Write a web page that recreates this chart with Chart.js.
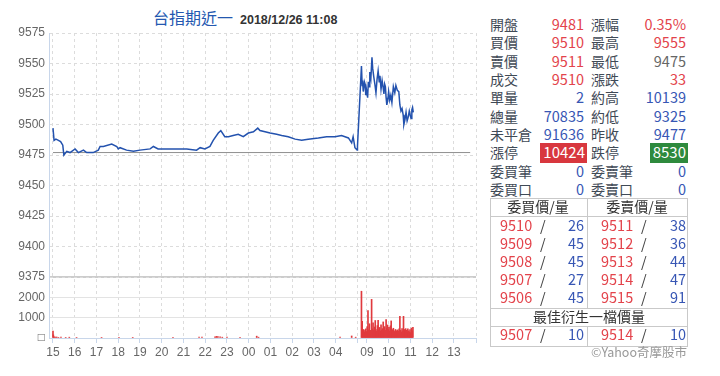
<!DOCTYPE html>
<html>
<head>
<meta charset="utf-8">
<script src="https://cdn.jsdelivr.net/npm/chart.js"></script>
<style>
    body { margin: 0; width: 720px; height: 376px; overflow: hidden; position: relative; background: #fff;
           font-family: "Noto Sans CJK TC", sans-serif; }
    #chartBox { position: absolute; left: 0; top: 0; width: 480px; height: 376px; }
    .t { position: absolute; white-space: nowrap; height: 20px; line-height: 20px; font-size: 14px; }
    .ln { position: absolute; background: #c9c9c9; }
    #title { position: absolute; left: 153px; top: 6px; white-space: nowrap; line-height: 22px; }
</style>
</head>
<body>
<div id="title"><span style="color:#2458b0;font-size:16px">台指期近一</span><span style="font-family:'Liberation Sans';font-weight:bold;font-size:12.5px;color:#333;margin-left:7px">2018/12/26 11:08</span></div>
<div id="chartBox"><canvas id="tx" width="480" height="376"></canvas></div>
<div id="panel"></div>
<script>
// 價格走勢 (夜盤 15:00-05:00, 日盤 08:45-13:45)
const priceTimes = ["15:00","15:03","15:08","15:15","15:21","15:27","15:30","15:38","15:47","16:01","16:10","16:24","16:33","16:51",
    "17:05","17:10","17:19","17:42","17:56","18:00","18:05","18:23","18:42","19:00","19:28","19:37","19:50","20:09","20:32","20:50",
    "21:09","21:36","21:46","21:59","22:13","22:22","22:36","22:43","22:54","23:04","23:17","23:31","23:45","23:59","00:13","00:25",
    "00:31","00:45","00:59","01:17","01:31","01:49","02:08","02:26","02:44","03:12","03:35","03:58","04:16","04:35","04:44","04:48",
    "04:53","04:59","05:00",
    "08:45","08:47","08:48","08:50","08:53","08:55","08:57","08:59","09:02","09:04","09:06","09:08","09:11","09:14","09:16","09:19",
    "09:22","09:25","09:28","09:31","09:34","09:36","09:39","09:42","09:45","09:47","09:49","09:51","09:53","09:55","09:58","10:00",
    "10:03","10:06","10:09","10:13","10:17","10:20","10:24","10:28","10:31","10:34","10:37","10:40","10:42","10:45","10:48","10:51",
    "10:54","10:57","11:00","11:02","11:04","11:06","11:08"];
const priceValues = [9497,9487,9488,9487,9486,9483,9475,9478,9477,9480,9477,9479,9477,9477,
    9479,9482,9482,9484,9482,9480,9481,9479,9478,9479,9480,9482,9480,9480,9480,9480,
    9480,9479,9481,9480,9482,9487,9493,9495,9490,9490,9491,9492,9490,9493,9494,9497,
    9495,9494,9493,9492,9491,9490,9488,9487,9488,9489,9490,9490,9491,9489,9485,9490,
    9481,9479,9482,
    9548,9532,9536,9527,9535,9533,9524,9528,9522,9535,9531,9543,9538,9555,9546,9539,
    9533,9526,9537,9544,9535,9540,9529,9536,9530,9525,9533,9531,9522,9516,9521,9527,
    9520,9524,9518,9531,9526,9532,9528,9527,9516,9511,9513,9508,9500,9504,9510,9503,
    9506,9511,9507,9505,9512,9514,9510];
const prevClose = 9477;
const sessionSpan = ["15:00", "13:45"];

// 成交量 - 夜盤零星
const nightVolTimes = ["15:00","15:01","15:03","15:06","15:10","15:15","15:22","15:35","15:45","16:05","17:14","18:02","18:40",
    "20:31","21:43","21:51","22:27","22:31","22:35","22:41","22:47","23:00","23:36","00:22","00:27","04:12","04:44","04:55"];
const nightVolValues = [340,150,60,40,50,30,40,30,40,20,30,30,30,
    30,40,40,60,80,70,60,40,40,30,90,40,40,100,40];
// 成交量 - 日盤 每2分鐘 自 08:45
const dayVolStart = "08:45";
const dayVolStep = 2;
const dayVolValues = [2300,820,350,420,300,380,450,320,560,1350,400,700,380,330,1900,450,740,380,540,860,
    420,330,610,870,400,520,350,650,380,460,790,420,560,380,900,480,640,420,520,350,
    600,840,430,380,480,350,300,420,360,280,400,330,450,1065,380,300,460,350,1065,420,
    300,460,380,270,450,350,300,420,260,490,350,520];

// 時間軸刻度
const xTickTimes = ["15:00","16:00","17:00","18:00","19:00","20:00","21:00","22:00","23:00","00:00","01:00","02:00","03:00",
    "04:00","05:00","09:00","10:00","11:00","12:00","13:00"];
const xTickLabels = ["15","16","17","18","19","20","21","22","23","00","01","02","03","04","","09","10","11","12","13"];

// 報價
const quoteLeft = [["開盤","9481","r"],["買價","9510","r"],["賣價","9511","r"],["成交","9510","r"],["單量","2","b"],
    ["總量","70835","b"],["未平倉","91636","b"],["漲停","10424","up"],["委買筆","0","b"],["委買口","0","b"]];
const quoteRight = [["漲幅","0.35%","r"],["最高","9555","r"],["最低","9475","g"],["漲跌","33","r"],["約高","10139","b"],
    ["約低","9325","b"],["昨收","9477","b"],["跌停","8530","dn"],["委賣筆","0","b"],["委賣口","0","b"]];
const bidPrices = ["9510","9509","9508","9507","9506"];
const bidQtys = ["26","45","45","27","45"];
const askPrices = ["9511","9512","9513","9514","9515"];
const askQtys = ["38","36","44","47","91"];
const bestBid = ["9507","10"];
const bestAsk = ["9514","10"];

// 時間 -> 軸上分鐘 (日盤接在夜盤後面)
function pos(t) {
    const [h, m] = t.split(":").map(Number);
    const mins = h * 60 + m;
    if (h >= 15) return mins - 900;
    if (h < 8) return mins + 540;
    return mins - 525 + 851;
}

function main() {
    const volData = nightVolTimes.map((t, i) => ({ x: pos(t), y: nightVolValues[i] }));
    dayVolValues.forEach((v, i) => volData.push({ x: pos(dayVolStart) + i * dayVolStep, y: v }));
    const xTicks = xTickTimes.map(pos);

    Chart.defaults.font.family = "Liberation Sans";
    Chart.defaults.font.size = 12;
    Chart.defaults.color = "#666";

    new Chart(document.getElementById("tx"), {
        type: "line",
        data: {
            datasets: [
                {
                    data: priceTimes.map((t, i) => ({ x: pos(t), y: priceValues[i] })),
                    borderColor: "#2352ae",
                    borderWidth: 1.5,
                    pointRadius: 0,
                    yAxisID: "y",
                },
                {
                    // 昨收線
                    data: sessionSpan.map(t => ({ x: pos(t), y: prevClose })),
                    borderColor: "#8f8f8f",
                    borderWidth: 1,
                    pointRadius: 0,
                    yAxisID: "y",
                },
                {
                    type: "bar",
                    data: volData,
                    backgroundColor: "#e03a3e",
                    barThickness: 1,
                    yAxisID: "yv",
                },
            ],
        },
        options: {
            responsive: false,
            animation: false,
            layout: { padding: { top: 33, right: 4, left: 0, bottom: 0 } },
            plugins: { legend: { display: false }, tooltip: { enabled: false } },
            scales: {
                x: {
                    type: "linear",
                    offset: false,  // bar 預設會加 offset
                    min: -11,
                    max: 1167,
                    afterBuildTicks: s => { s.ticks = xTicks.concat([1167]).map(v => ({ value: v })) },
                    afterFit: s => { s.height = 38; s.paddingLeft = 0; s.paddingRight = 0 },
                    ticks: {
                        autoSkip: false,
                        maxRotation: 0,
                        padding: 2,
                        callback: (v, i) => xTickLabels[i] || "",
                    },
                    grid: { offset: false, color: "#dcdcdc", tickColor: "#c8d6ea", tickLength: 5 },
                    border: { color: "#c8d6ea", dash: [3, 3] },
                },
                yv: {
                    type: "linear",
                    position: "left",
                    stack: "main",
                    stackWeight: 1,
                    min: 0,
                    max: 3000,
                    afterFit: s => { s.width = 49 },
                    ticks: {
                        stepSize: 1000,
                        padding: 4,
                        autoSkip: false,
                        callback: v => v === 0 ? "□" : v === 3000 ? "" : String(v),
                    },
                    grid: {
                        drawTicks: false,
                        color: c => c.tick && c.tick.value === 3000 ? "#cccccc" : "#e3e3e3",
                        lineWidth: c => c.tick && c.tick.value === 3000 ? 2 : 1,
                    },
                    border: { color: "#c8d6ea" },
                },
                y: {
                    type: "linear",
                    position: "left",
                    stack: "main",
                    stackWeight: 4,
                    min: 9375,
                    max: 9575,
                    afterFit: s => { s.width = 49 },
                    ticks: { stepSize: 25, padding: 4, autoSkip: false, callback: v => String(v) },
                    grid: { drawTicks: false, color: "#dcdcdc" },
                    border: { color: "#c8d6ea", dash: [3, 3] },
                },
            },
        },
    });

    buildPanel();
}

const colors = { r: "#e3434b", b: "#3756b4", g: "#666666", lab: "#3f4a56" };

function addText(txt, opt) {
    const d = document.createElement("div");
    d.className = "t";
    d.textContent = txt;
    d.style.top = (opt.cy - 11) + "px";
    if (opt.left !== undefined) d.style.left = opt.left + "px";
    if (opt.right !== undefined) d.style.right = (720 - opt.right) + "px";
    if (opt.color) d.style.color = opt.color;
    if (opt.size) d.style.fontSize = opt.size + "px";
    if (opt.center !== undefined) { d.style.left = (opt.center - 60) + "px"; d.style.width = "120px"; d.style.textAlign = "center"; }
    document.getElementById("panel").appendChild(d);
    return d;
}

function addBox(x, y, w, h, bg) {
    const d = document.createElement("div");
    d.className = "ln";
    d.style.left = x + "px"; d.style.top = y + "px";
    d.style.width = w + "px"; d.style.height = h + "px";
    if (bg) d.style.background = bg;
    document.getElementById("panel").appendChild(d);
}

function buildPanel() {
    const rowH = 18.33;
    quoteLeft.forEach((q, i) => {
        const cy = 25 + i * rowH;
        addText(q[0], { left: 490, cy, color: colors.lab });
        if (q[2] === "up") {
            addBox(540, cy - 10, 47, 20, "#d8373e");
            addText(q[1], { right: 585, cy, color: "#fff", size: 15 });
        } else {
            addText(q[1], { right: 584, cy, color: colors[q[2]], size: 14.5 });
        }
    });
    quoteRight.forEach((q, i) => {
        const cy = 25 + i * rowH;
        addText(q[0], { left: 591, cy, color: colors.lab });
        if (q[2] === "dn") {
            addBox(650, cy - 10, 38, 20, "#2e8a3d");
            addText(q[1], { right: 686, cy, color: "#fff", size: 15 });
        } else {
            addText(q[1], { right: 686, cy, color: colors[q[2]], size: 14.5 });
        }
    });

    // 五檔表格線
    addBox(490, 198, 198, 1); addBox(490, 216, 198, 1); addBox(490, 308, 198, 1);
    addBox(490, 326, 198, 1); addBox(490, 346, 198, 1);
    addBox(490, 198, 1, 149); addBox(687, 198, 1, 149);
    addBox(587, 198, 1, 110); addBox(587, 326, 1, 20);

    addText("委買價/量", { center: 538, cy: 207, color: "#333" });
    addText("委賣價/量", { center: 637, cy: 207, color: "#333" });
    bidPrices.forEach((p, i) => {
        const cy = 226 + i * 18;
        addText(p, { left: 500, cy, color: colors.r, size: 14.5 });
        addText("/", { left: 540, cy, color: "#444", size: 14.5 });
        addText(bidQtys[i], { right: 584, cy, color: colors.b, size: 14.5 });
        addText(askPrices[i], { left: 601, cy, color: colors.r, size: 14.5 });
        addText("/", { left: 641, cy, color: "#444", size: 14.5 });
        addText(askQtys[i], { right: 686, cy, color: colors.b, size: 14.5 });
    });
    addText("最佳衍生一檔價量", { center: 589, cy: 317, color: "#333" });
    addText(bestBid[0], { left: 500, cy: 335, color: colors.r, size: 14.5 });
    addText("/", { left: 540, cy: 335, color: "#444", size: 14.5 });
    addText(bestBid[1], { right: 584, cy: 335, color: colors.b, size: 14.5 });
    addText(bestAsk[0], { left: 601, cy: 335, color: colors.r, size: 14.5 });
    addText("/", { left: 641, cy: 335, color: "#444", size: 14.5 });
    addText(bestAsk[1], { right: 686, cy: 335, color: colors.b, size: 14.5 });
    addText("©Yahoo奇摩股市", { right: 687, cy: 353, color: "#999", size: 12.5 });
}

document.addEventListener("DOMContentLoaded", main);
</script>
</body>
</html>
